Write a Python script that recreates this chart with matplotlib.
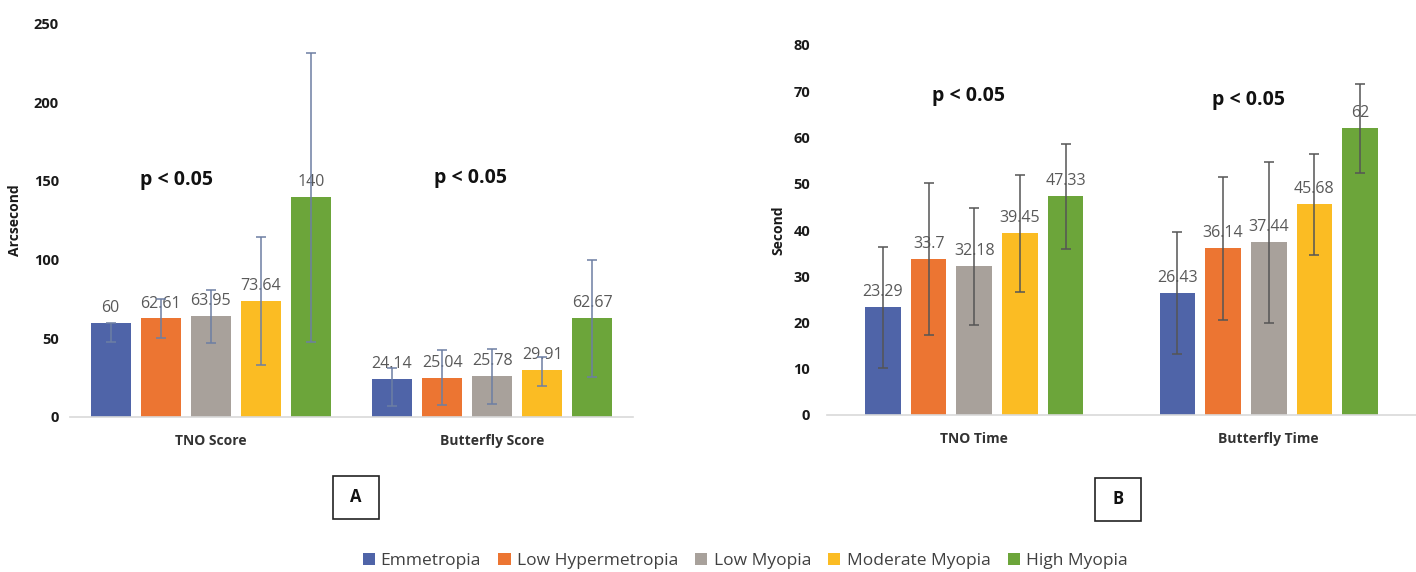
import matplotlib
matplotlib.use("Agg")
import matplotlib.pyplot as plt
import numpy as np
from matplotlib.patches import Patch, Rectangle

plt.rcParams['font.family'] = ['Open Sans', 'DejaVu Sans']

groups = ["Emmetropia", "Low Hypermetropia", "Low Myopia", "Moderate Myopia", "High Myopia"]
colors = ["#4f64a8", "#ec7532", "#a8a19b", "#fbbc23", "#6ca53a"]

# Panel A (Arcsecond)
catsA = ["TNO Score", "Butterfly Score"]
valsA = [[60, 24.14], [62.61, 25.04], [63.95, 25.78], [73.64, 29.91], [140, 62.67]]
labsA = [["60", "24.14"], ["62.61", "25.04"], ["63.95", "25.78"], ["73.64", "29.91"], ["140", "62.67"]]
lowA = [[47.5, 7.0], [50.0, 7.6], [47.0, 8.4], [33.0, 19.5], [47.8, 25.3]]
highA = [[60.0, 31.0], [75.0, 42.5], [80.4, 43.4], [114.5, 38.3], [231.5, 99.8]]

# Panel B (Second)
catsB = ["TNO Time", "Butterfly Time"]
valsB = [[23.29, 26.43], [33.7, 36.14], [32.18, 37.44], [39.45, 45.68], [47.33, 62]]
labsB = [["23.29", "26.43"], ["33.7", "36.14"], ["32.18", "37.44"], ["39.45", "45.68"], ["47.33", "62"]]
lowB = [[10.1, 13.2], [17.3, 20.5], [19.5, 20.0], [26.7, 34.6], [35.9, 52.3]]
highB = [[36.4, 39.5], [50.1, 51.5], [44.7, 54.6], [51.9, 56.4], [58.6, 71.5]]

W, H = 1416, 572
fig = plt.figure(figsize=(W / 100, H / 100), dpi=100)


def panel(rect, cats, vals, labs, lows, highs, ymax, ystep, ylabel, width, step, ecolor, pad):
    ax = fig.add_axes(rect)
    x = np.arange(len(cats))
    n = len(vals)
    for i in range(n):
        xi = x + (i - (n - 1) / 2) * step
        v = np.array(vals[i], dtype=float)
        lo = v - np.array(lows[i])
        hi = np.array(highs[i]) - v
        ax.bar(xi, v, width=width, color=colors[i], zorder=2)
        ax.errorbar(xi, v, yerr=[lo, hi], fmt='none', ecolor=ecolor, elinewidth=1.1,
                    capsize=3.5, capthick=1.1, zorder=4)
        for xx, vv, t in zip(xi, v, labs[i]):
            ax.annotate(t, (xx, vv), xytext=(0, 5), textcoords='offset points',
                        ha='center', va='bottom', fontsize=11.5, color='#595959', zorder=3)
    ax.set_xlim(-0.5, len(cats) - 0.5)
    ax.set_ylim(0, ymax)
    ax.set_yticks(np.arange(0, ymax + 1, ystep))
    ax.set_xticks(x)
    ax.set_xticklabels(cats, fontsize=10, fontweight='bold', color='#333333')
    for lab in ax.get_yticklabels():
        lab.set_fontweight('bold')
    ax.tick_params(axis='y', length=0, labelsize=10.5, labelcolor='#1a1a1a', pad=pad)
    ax.tick_params(axis='x', length=0, pad=12)
    for s in ['top', 'right', 'left']:
        ax.spines[s].set_visible(False)
    ax.spines['bottom'].set_color('#d9d9d9')
    ax.spines['bottom'].set_linewidth(1.2)
    ax.set_ylabel(ylabel, fontsize=10, fontweight='bold', color='#1a1a1a')
    ax.patch.set_alpha(0)
    return ax


axA = panel([70 / W, 1 - 417 / H, (633 - 70) / W, (417 - 23.5) / H], catsA, valsA, labsA,
            lowA, highA, 250, 50, "Arcsecond", 0.142, 0.178, '#6d7fa3', 8)
axA.yaxis.set_label_coords(-0.085, 0.5)
axB = panel([827 / W, 1 - 415 / H, (1416 - 827) / W, (415 - 45) / H], catsB, valsB, labsB,
            lowB, highB, 80, 10, "Second", 0.121, 0.155, '#555555', 12)
axB.yaxis.set_label_coords(-0.07, 0.5)

# p-value annotations
ptexts = [(177, 180), (470, 178), (969, 96), (1248, 100)]
for px, py in ptexts:
    fig.text(px / W, 1 - py / H, "p < 0.05", ha='center', va='center', fontsize=14,
             fontweight='bold', color='#111111')

# Panel letters in boxes
for letter, (x0, y0, x1, y1) in [("A", (333, 476, 379, 519)), ("B", (1095, 478, 1141, 521))]:
    fig.patches.append(Rectangle((x0 / W, 1 - y1 / H), (x1 - x0) / W, (y1 - y0) / H,
                                 transform=fig.transFigure, fill=False, edgecolor='#222222',
                                 linewidth=1.2))
    fig.text((x0 + x1) / 2 / W, 1 - (y0 + y1) / 2 / H, letter, ha='center', va='center',
             fontsize=12, fontweight='bold', color='#111111')

handles = [Patch(facecolor=c, edgecolor='none') for c in colors]
leg = fig.legend(handles, groups, loc='center', bbox_to_anchor=(745 / W, 1 - 561 / H), ncol=5,
                 frameon=False, fontsize=12.5, handlelength=0.7, handleheight=0.7,
                 handletextpad=0.35, columnspacing=1.0)
for t in leg.get_texts():
    t.set_color('#404040')

fig.savefig("out.png", dpi=100, facecolor='white')
